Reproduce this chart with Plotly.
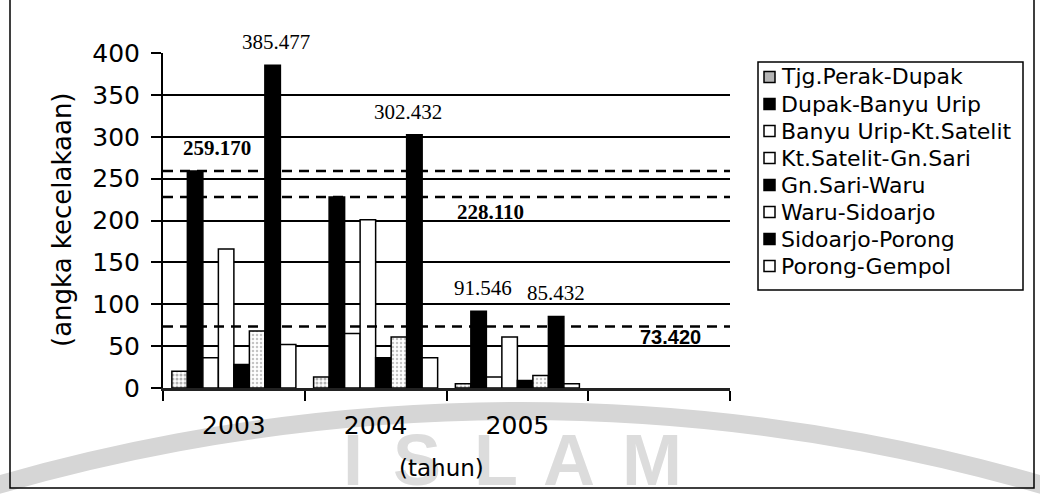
import plotly.graph_objects as go

# ---- data -------------------------------------------------------------
years = ["2003", "2004", "2005"]
segments = [
    "Tjg.Perak-Dupak",
    "Dupak-Banyu Urip",
    "Banyu Urip-Kt.Satelit",
    "Kt.Satelit-Gn.Sari",
    "Gn.Sari-Waru",
    "Waru-Sidoarjo",
    "Sidoarjo-Porong",
    "Porong-Gempol",
]
tjg_perak_dupak = [20, 13, 5]
dupak_banyu_urip = [259.170, 228.110, 91.546]
banyu_urip_kt_satelit = [36, 65, 13]
kt_satelit_gn_sari = [166, 201, 61]
gn_sari_waru = [28, 36, 9]
waru_sidoarjo = [68, 61, 15]
sidoarjo_porong = [385.477, 302.432, 85.432]
porong_gempol = [52, 36, 5]
values = [tjg_perak_dupak, dupak_banyu_urip, banyu_urip_kt_satelit,
          kt_satelit_gn_sari, gn_sari_waru, waru_sidoarjo,
          sidoarjo_porong, porong_gempol]

reference_levels = [259.170, 228.110, 73.420]   # dashed lines
y_ticks = [0, 50, 100, 150, 200, 250, 300, 350, 400]

# bars that carry a value label: (segment, year)
labelled_bars = [("Sidoarjo-Porong", "2003"), ("Sidoarjo-Porong", "2004"),
                 ("Dupak-Banyu Urip", "2005"), ("Sidoarjo-Porong", "2005")]

# ---- styling ----------------------------------------------------------
W, H = 1040, 501
PL, PR, PT, PB = 163, 730, 53, 388
BARGAP = 0.125
SANS = "DejaVu Sans"
SERIF = "Liberation Serif"

def px_x(px):
    return (px - PL) / (PR - PL)

def px_y(py):
    return (PB - py) / (PB - PT)

styles = {
    "Tjg.Perak-Dupak": dict(color="white", pattern=dict(shape=".", fgcolor="#666", bgcolor="white", size=4, solidity=0.45), swatch="#b5b5b5"),
    "Dupak-Banyu Urip": dict(color="black", swatch="black"),
    "Banyu Urip-Kt.Satelit": dict(color="white", swatch="white"),
    "Kt.Satelit-Gn.Sari": dict(color="white", swatch="white"),
    "Gn.Sari-Waru": dict(color="black", swatch="black"),
    "Waru-Sidoarjo": dict(color="white", pattern=dict(shape=".", fgcolor="#888", bgcolor="white", size=4, solidity=0.3), swatch="white"),
    "Sidoarjo-Porong": dict(color="black", swatch="black"),
    "Porong-Gempol": dict(color="white", swatch="white"),
}

xs = list(range(len(years)))
fig = go.Figure()
for name, vals in zip(segments, values):
    st = styles[name]
    marker = dict(color=st["color"], line=dict(color="black", width=1.5))
    if "pattern" in st:
        marker["pattern"] = st["pattern"]
    fig.add_trace(go.Bar(x=xs, y=vals, name=name, marker=marker, showlegend=False))

n = len(segments)
group_w = 1 - BARGAP

def bar_x(seg, year):
    k = segments.index(seg)
    return years.index(year) - group_w / 2 + (k + 0.5) * group_w / n

annotations = []
shapes = []

# watermark behind the lower part of the page
ring_r = 1880
cx, cy = 520, 411 + ring_r
shapes.append(dict(type="circle", xref="paper", yref="paper", layer="below",
                   x0=px_x(cx - ring_r), x1=px_x(cx + ring_r),
                   y0=px_y(cy + ring_r), y1=px_y(cy - ring_r),
                   line=dict(color="#d6d6d6", width=18)))
for letter, lx in zip("ISLAM", [353, 417, 496, 569, 652]):
    annotations.append(dict(text=f"<b>{letter}</b>", xref="paper", yref="paper",
                            x=px_x(lx), y=px_y(502), xanchor="center", yanchor="bottom",
                            showarrow=False,
                            font=dict(family="Liberation Sans", size=72, color="#dcdcdc")))

# value labels above selected bars
label_xshift = [3, -6, 4, 0]
for (seg, year), dx in zip(labelled_bars, label_xshift):
    v = values[segments.index(seg)][years.index(year)]
    annotations.append(dict(text=f"{v:.3f}", x=bar_x(seg, year), y=v, xref="x", yref="y",
                            xanchor="center", yanchor="bottom", yshift=9, xshift=dx,
                            showarrow=False, font=dict(family=SERIF, size=21, color="black")))

# dashed reference levels with their labels
for lv in reference_levels:
    shapes.append(dict(type="line", xref="x domain", yref="y", x0=0, x1=1, y0=lv, y1=lv,
                       line=dict(color="black", width=2.5, dash="10px,7px"), layer="above"))
level_label_pos = [(217, "bottom", 9, SERIF, 21), (490, "top", -1, SERIF, 21),
                   (670, "top", 3, "Liberation Sans", 20)]
for lv, (lx, anchor, dy, fam, fs) in zip(reference_levels, level_label_pos):
    annotations.append(dict(text=f"<b>{lv:.3f}</b>", x=px_x(lx), y=lv, xref="paper", yref="y",
                            xanchor="center", yanchor=anchor, yshift=dy, showarrow=False,
                            font=dict(family=fam, size=fs, color="black")))

# axis titles
annotations.append(dict(text="(angka kecelakaan)", xref="paper", yref="paper",
                        x=px_x(62), y=px_y(220), textangle=-90, showarrow=False,
                        xanchor="center", yanchor="middle",
                        font=dict(family=SANS, size=26, color="black")))
annotations.append(dict(text="(tahun)", xref="paper", yref="paper",
                        x=px_x(441), y=px_y(468), showarrow=False,
                        xanchor="center", yanchor="middle",
                        font=dict(family=SANS, size=23, color="black")))

# legend box drawn by hand
LX0, LX1, LY0, LY1 = 758, 1023, 62, 290
shapes.append(dict(type="rect", xref="paper", yref="paper",
                   x0=px_x(LX0), x1=px_x(LX1), y0=px_y(LY1), y1=px_y(LY0),
                   line=dict(color="black", width=1.5), fillcolor="white"))
row0, pitch, sw = 77, 27, 11
for i, name in enumerate(segments):
    ry = row0 + i * pitch
    shapes.append(dict(type="rect", xref="paper", yref="paper",
                       x0=px_x(764), x1=px_x(764 + sw), y0=px_y(ry + sw / 2), y1=px_y(ry - sw / 2),
                       line=dict(color="black", width=1.5), fillcolor=styles[name]["swatch"]))
    annotations.append(dict(text=name, xref="paper", yref="paper", x=px_x(779), y=px_y(ry),
                            xanchor="left", yanchor="middle", showarrow=False,
                            font=dict(family=SANS, size=22, color="black")))

# outer frame of the chart
shapes.append(dict(type="path", xref="paper", yref="paper",
                   path=f"M {px_x(10)} {px_y(-5)} L {px_x(10)} {px_y(488)} L {px_x(1034)} {px_y(488)} L {px_x(1034)} {px_y(-5)}",
                   line=dict(color="black", width=1.5)))

fig.update_layout(
    width=W, height=H,
    margin=dict(l=PL, r=W - PR, t=PT, b=H - PB, pad=0),
    paper_bgcolor="white", plot_bgcolor="white",
    barmode="group", bargap=BARGAP, bargroupgap=0,
    font=dict(family=SANS, color="black"),
    annotations=annotations, shapes=shapes,
    xaxis=dict(range=[-0.5, 3.5], tickmode="array", tickvals=xs, ticktext=years,
               ticks="", showgrid=False, zeroline=False,
               showline=True, linecolor="#222", linewidth=3,
               tickfont=dict(family=SANS, size=25, color="black"), ticklabelstandoff=13,
               minor=dict(tickmode="array", tickvals=[i - 0.5 for i in range(len(years) + 2)],
                          ticks="outside", ticklen=10, tickwidth=2, tickcolor="black", showgrid=False)),
    yaxis=dict(range=[0, 400], tickmode="array", tickvals=y_ticks,
               ticks="outside", ticklen=10, tickwidth=2, tickcolor="black",
               showgrid=False, zeroline=False,
               showline=True, linecolor="black", linewidth=2,
               tickfont=dict(family=SANS, size=25, color="black"), ticklabelstandoff=6,
               minor=dict(tickmode="array", tickvals=y_ticks[1:-1], ticks="",
                          showgrid=True, gridcolor="black", gridwidth=2)),
)

fig.write_html("out.html")
